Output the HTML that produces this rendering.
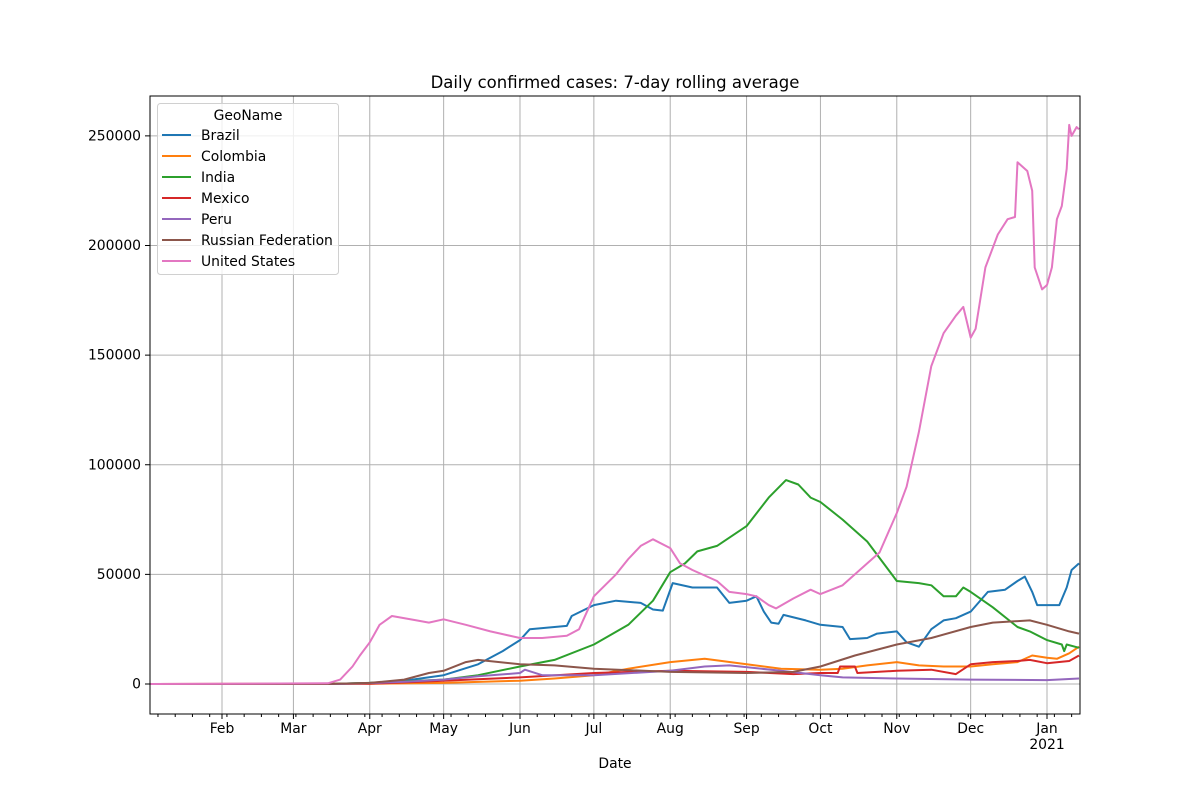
<!DOCTYPE html>
<html><head><meta charset="utf-8"><style>
body{margin:0;background:#fff}
svg{display:block;font-family:"DejaVu Sans","Liberation Sans",sans-serif}
</style></head><body>
<svg id="chart" width="1200" height="800" viewBox="0 0 1200 800">
<text x="615" y="88" text-anchor="middle" font-size="16.5">Daily confirmed cases: 7-day rolling average</text>
<g id="grid"></g>
<g id="series"></g>
<rect x="150" y="96" width="930" height="618" fill="none" stroke="#000" stroke-width="1"/>
<g id="axes"></g>
<text x="615" y="768" text-anchor="middle" font-size="13.9">Date</text>
<g id="legend"></g>
</svg>
<script>
const yTicks=[0,50000,100000,150000,200000,250000];
const monthTicks=[["02-01","Feb"],["03-01","Mar"],["04-01","Apr"],["05-01","May"],["06-01","Jun"],["07-01","Jul"],["08-01","Aug"],["09-01","Sep"],["10-01","Oct"],["11-01","Nov"],["12-01","Dec"],["2021-01-01","Jan"]];
const seriesNames=["Brazil","Colombia","India","Mexico","Peru","Russian Federation","United States"];
const brazil=[["01-03",0],["03-15",0],["04-01",500],["04-15",1500],["05-01",4000],["05-15",9000],["05-25",15000],["06-01",20000],["06-05",25000],["06-15",26000],["06-20",26500],["06-22",31000],["07-01",36000],["07-10",38000],["07-20",37000],["07-25",34000],["07-29",33500],["08-02",46000],["08-10",44000],["08-20",44000],["08-25",37000],["09-01",38000],["09-05",40000],["09-08",33000],["09-11",28000],["09-14",27500],["09-16",31500],["09-25",29000],["10-01",27000],["10-10",26000],["10-13",20500],["10-20",21000],["10-24",23000],["11-01",24000],["11-05",19000],["11-10",17000],["11-15",25000],["11-20",29000],["11-25",30000],["12-01",33000],["12-08",42000],["12-15",43000],["12-20",47000],["12-23",49000],["12-26",42000],["12-28",36000],["2021-01-01",36000],["2021-01-06",36000],["2021-01-09",44000],["2021-01-11",52000],["2021-01-14",55000]];
const colombia=[["01-03",0],["04-01",100],["05-01",500],["06-01",1500],["06-15",2500],["07-01",4000],["07-15",7000],["08-01",10000],["08-15",11500],["09-01",9000],["09-15",7000],["10-01",6500],["10-10",7000],["10-20",8500],["11-01",10000],["11-10",8500],["11-20",8000],["12-01",8000],["12-10",9000],["12-20",10000],["12-26",13000],["2021-01-01",12000],["2021-01-05",11500],["2021-01-10",14000],["2021-01-14",17000]];
const india=[["01-03",0],["03-15",0],["04-01",500],["05-01",2000],["05-15",4000],["06-01",8000],["06-15",11000],["07-01",18000],["07-15",27000],["07-25",38000],["08-01",51000],["08-07",55000],["08-12",60500],["08-20",63000],["09-01",72000],["09-10",85000],["09-17",93000],["09-22",91000],["09-27",85000],["10-01",83000],["10-10",75000],["10-20",65000],["11-01",47000],["11-10",46000],["11-15",45000],["11-20",40000],["11-25",40000],["11-28",44000],["12-01",42000],["12-10",35000],["12-20",26000],["12-25",24000],["2021-01-01",20000],["2021-01-07",18000],["2021-01-08",15000],["2021-01-09",18000],["2021-01-14",16500]];
const mexico=[["01-03",0],["04-01",100],["05-01",1500],["06-01",3000],["07-01",5000],["08-01",6000],["09-01",5500],["09-20",4500],["10-01",5000],["10-08",5000],["10-09",8000],["10-15",8000],["10-16",5000],["11-01",6000],["11-15",6500],["11-25",4500],["12-01",9000],["12-10",10000],["12-20",10500],["12-25",11000],["2021-01-01",9500],["2021-01-10",10500],["2021-01-14",13000]];
const peru=[["01-03",0],["03-20",0],["04-15",1000],["05-01",2000],["05-15",3500],["06-01",5000],["06-03",6500],["06-10",4000],["07-01",4000],["08-01",6000],["08-15",8000],["08-25",8500],["09-15",6000],["10-01",4000],["10-10",3000],["11-01",2500],["12-01",2000],["2021-01-01",1800],["2021-01-14",2500]];
const russia=[["01-03",0],["03-15",0],["04-01",500],["04-15",2000],["04-25",5000],["05-01",6000],["05-10",10000],["05-15",11000],["06-01",9000],["06-15",8500],["07-01",7000],["08-01",5500],["09-01",5000],["09-20",5500],["10-01",8000],["10-15",13000],["11-01",18000],["11-15",21000],["12-01",26000],["12-10",28000],["12-25",29000],["2021-01-01",27000],["2021-01-10",24000],["2021-01-14",23000]];
const unitedStates=[["01-03",0],["03-15",300],["03-20",2000],["03-25",8000],["03-28",13000],["04-01",19000],["04-05",27000],["04-10",31000],["04-20",29000],["04-25",28000],["05-01",29500],["05-10",27000],["05-20",24000],["06-01",21000],["06-10",21000],["06-20",22000],["06-25",25000],["07-01",40000],["07-10",50000],["07-15",57000],["07-20",63000],["07-25",66000],["08-01",62000],["08-05",55000],["08-10",52000],["08-20",47000],["08-25",42000],["09-01",41000],["09-05",40000],["09-10",36000],["09-13",34500],["09-20",39000],["09-27",43000],["10-01",41000],["10-10",45000],["10-20",55000],["10-25",60000],["11-01",78000],["11-05",90000],["11-10",115000],["11-15",145000],["11-20",160000],["11-25",168000],["11-28",172000],["12-01",158000],["12-03",162000],["12-07",190000],["12-12",205000],["12-16",212000],["12-19",213000],["12-20",238000],["12-24",234000],["12-26",225000],["12-27",190000],["12-30",180000],["2021-01-01",182000],["2021-01-03",190000],["2021-01-05",212000],["2021-01-07",218000],["2021-01-09",235000],["2021-01-10",255000],["2021-01-11",250000],["2021-01-13",254000],["2021-01-14",253000]];
const allSeries=[brazil,colombia,india,mexico,peru,russia,unitedStates];
const colors=["#1f77b4","#ff7f0e","#2ca02c","#d62728","#9467bd","#8c564b","#e377c2"];

const NS="http://www.w3.org/2000/svg";
function dayOf(s){const full=s.length===5?"2020-"+s:s;return (Date.parse(full+"T00:00:00Z")-Date.parse("2020-01-01T00:00:00Z"))/86400000;}
function xScale(d){return 222+(d-31)*2.4627;}
function yScale(v){return 684-v*0.0021925;}
function mk(tag,attrs,parent){const e=document.createElementNS(NS,tag);for(const k in attrs)e.setAttribute(k,attrs[k]);parent.appendChild(e);return e;}
const grid=document.getElementById("grid"),axes=document.getElementById("axes"),ser=document.getElementById("series"),leg=document.getElementById("legend");

yTicks.forEach(v=>{const y=yScale(v);
 const g=mk("line",{x1:150,x2:1080,y1:y,y2:y,stroke:"#b0b0b0","stroke-width":1},grid);
 
 
 const t=mk("line",{x1:145,x2:150,y1:y,y2:y,stroke:"#000"},axes);
 
 
 const l=mk("text",{x:141,y:y+4.5,"text-anchor":"end","font-size":"13.9"},axes);l.textContent=String(v);
 
 
});
monthTicks.forEach(([d,lab])=>{const x=xScale(dayOf(d));
 const g=mk("line",{x1:x,x2:x,y1:96,y2:714,stroke:"#b0b0b0","stroke-width":1},grid);
 
 
 const t=mk("line",{x1:x,x2:x,y1:714,y2:719,stroke:"#000"},axes);
 
 
 const l=mk("text",{x:x,y:733,"text-anchor":"middle","font-size":"13.9"},axes);l.textContent=lab;
 
 
});
const yr=mk("text",{x:xScale(dayOf("2021-01-01")),y:749,"text-anchor":"middle","font-size":"13.9"},axes);yr.textContent="2021";


for(let d=dayOf("01-06");xScale(d)<=1080;d+=7){const x=xScale(d);
 const t=mk("line",{x1:x,x2:x,y1:714,y2:717,stroke:"#000"},axes);
 
 
}
allSeries.forEach((s,i)=>{
 const pts=s.map(([d,v])=>xScale(dayOf(d)).toFixed(1)+","+yScale(v).toFixed(1)).join(" ");
 const p=mk("polyline",{points:pts,fill:"none",stroke:colors[i],"stroke-width":2,"stroke-linejoin":"round"},ser);
 
 
});
const box=mk("rect",{x:157.5,y:103.5,width:181,height:171,rx:3,fill:"#fff","fill-opacity":0.8,stroke:"#d0d0d0"},leg);


const lt=mk("text",{x:248,y:120,"text-anchor":"middle","font-size":"13.9"},leg);lt.textContent="GeoName";


seriesNames.forEach((n,i)=>{const y=135+i*21;
 const ln=mk("line",{x1:162,x2:191,y1:y,y2:y,stroke:colors[i],"stroke-width":2},leg);
 
 
 const t=mk("text",{x:201,y:y+5,"font-size":"13.9"},leg);t.textContent=n;
 
 
});
</script>
</body></html>
